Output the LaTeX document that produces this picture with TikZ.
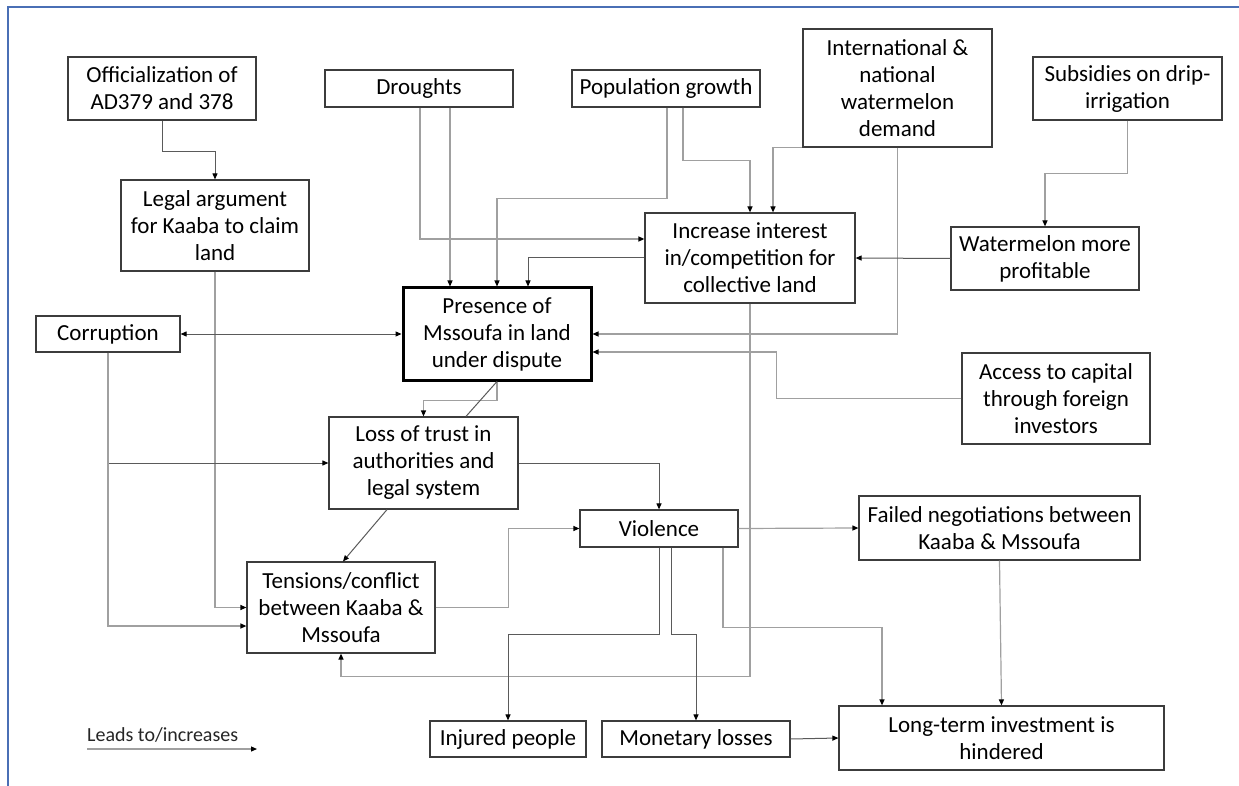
\documentclass[tikz,border=0pt]{standalone}
\usepackage{fontspec}
\setmainfont{Carlito}
\usetikzlibrary{arrows.meta}
\definecolor{boxline}{HTML}{3C3C3C}
\definecolor{dkline}{HTML}{5A5A5A}
\definecolor{ltline}{HTML}{A0A0A0}
\definecolor{frameblue}{HTML}{4A6FB5}
% box from its corners: [options]{name}{x1}{y1}{x2}{y2}{text}
\newcommand\bx[7][]{%
  \pgfmathsetmacro\bxcx{(#3+#5)/2}%
  \pgfmathsetmacro\bxcy{(#4+#6)/2}%
  \pgfmathsetmacro\bxw{#5-#3}%
  \pgfmathsetmacro\bxh{#6-#4}%
  \node[box,minimum width=\bxw pt,minimum height=\bxh pt,#1] (#2) at (\bxcx,\bxcy) {#7};}
\begin{document}
\begin{tikzpicture}[x=1pt,y=-1pt,
  box/.style={draw=boxline,line width=1.2pt,align=center,inner sep=0pt,
    font=\fontsize{23}{27}\selectfont,text=black},
  key/.style={line width=3pt,draw=black},
  dk/.style={draw=dkline,line width=1pt,-{Triangle[length=6pt,width=5pt,color=black]}},
  lt/.style={draw=ltline,line width=1.2pt,-{Triangle[length=6pt,width=5pt,color=black]}},
  plain/.style={draw=dkline,line width=1pt}]
\useasboundingbox (0,0) rectangle (1239,786);
\fill[white] (0,0) rectangle (1239,786);
\draw[frameblue,line width=1.3pt] (8,786) -- (8,7) -- (1239,7);

% causes
\bx{Off}{68}{57}{256}{120}{Officialization of\\AD379 and 378}
\bx{Leg}{121}{180}{309}{271}{Legal argument\\for Kaaba to claim\\land}
\bx{Dro}{325}{70}{513}{107}{Droughts}
\bx{Pop}{572}{70}{760}{107}{Population growth}
\bx{Int}{803}{29}{992}{147}{International \&\\national\\watermelon\\demand}
\bx{Sub}{1033}{57}{1222}{120}{Subsidies on drip-\\irrigation}
\bx{Inc}{645}{213}{855}{303}{Increase interest\\in/competition for\\collective land}
\bx{Wat}{951}{227}{1139}{290}{Watermelon more\\profitable}
\bx[key]{Pre}{403}{288}{591}{380}{Presence of\\Mssoufa in land\\under dispute}
\bx{Cor}{36}{316}{180}{352}{Corruption}
\bx{Acc}{962}{353}{1150}{444}{Access to capital\\through foreign\\investors}
% consequences
\bx{Los}{329}{417}{518}{509}{Loss of trust in\\authorities and\\legal system}
\bx{Vio}{580}{510}{738}{547}{Violence}
\bx{Fai}{859}{496}{1140}{560}{Failed negotiations between\\Kaaba \& Mssoufa}
\bx{Ten}{247}{562}{435}{653}{Tensions/conflict\\between Kaaba \&\\Mssoufa}
\bx{Inj}{430}{721}{586}{757}{Injured people}
\bx{Mon}{602}{721}{790}{757}{Monetary losses}
\bx{Lon}{839}{706}{1164}{770}{Long-term investment is\\hindered}

% connectors
\draw[dk] (Off.south) -- ++(0,31) -| (Leg.north);
\draw[lt] (Leg.south) |- (Ten.west);
\draw[lt] ([xshift=31pt]Dro.south) -- ([xshift=-47pt]Pre.north);
\draw[lt] ([xshift=1pt]Dro.south) |- ([yshift=19pt]Inc.west);
\draw[lt] ([xshift=1pt]Pop.south) -- ++(0,91) -| (Pre.north);
\draw[lt] ([xshift=17pt]Pop.south) -- ++(0,53) -| (Inc.north);
\draw[lt] (Int.south west) -| ([xshift=23pt]Inc.north);
\draw[lt] (Int.south) |- (Pre.east);
\draw[lt] (Sub.south) -- ++(0,53) -| (Wat.north);
\draw[dk] (Wat.west) -- (Inc.east);
\draw[dk] (Inc.west) -| ([xshift=31pt]Pre.north);
\draw[lt] (Inc.south) -- ++(0,373) -| (Ten.south);
\draw[lt] (Acc.west) -- ++(-185,0) |- ([yshift=-18pt]Pre.east);
\draw[dk,{Triangle[length=6pt,width=5pt,color=black]}-{Triangle[length=6pt,width=5pt,color=black]}] (Cor.east) -- (Pre.west);
\draw[dk] (Cor.south) |- (Los.west);
\draw[lt] (Cor.south) |- ([yshift=-18.5pt]Ten.west);
\draw[lt] (Pre.south) -- ++(0,19) -| (Los.north);
\draw[plain] (Pre.south) -- ([xshift=42.5pt]Los.north);
\draw[dk] ([xshift=-36.5pt]Los.south) -- ([xshift=2pt]Ten.north);
\draw[dk] (Los.east) -| (Vio.north);
\draw[lt] (Ten.east) -- ++(73,0) |- (Vio.west);
\draw[lt] (Vio.east) -- (Fai.west);
\draw[dk] (Vio.south) -- ++(0,87) -| (Inj.north);
\draw[dk] ([xshift=12pt]Vio.south) -- ++(0,87) -| (Mon.north);
\draw[lt] ([xshift=64pt]Vio.south) -- ++(0,80) -| ([xshift=-119.5pt]Lon.north);
\draw[lt] (Fai.south) -- (Lon.north);
\draw[dk] (Mon.east) -- (Lon.west);

% legend
\node[anchor=base west,inner sep=0pt,font=\fontsize{20}{24}\selectfont,text=black!85] (legtxt) at (87,741) {Leads to/increases};
\coordinate (legA) at (87,749);
\coordinate (legB) at (257,749);
\draw[lt] (legA) -- (legB);
\end{tikzpicture}
\end{document}
